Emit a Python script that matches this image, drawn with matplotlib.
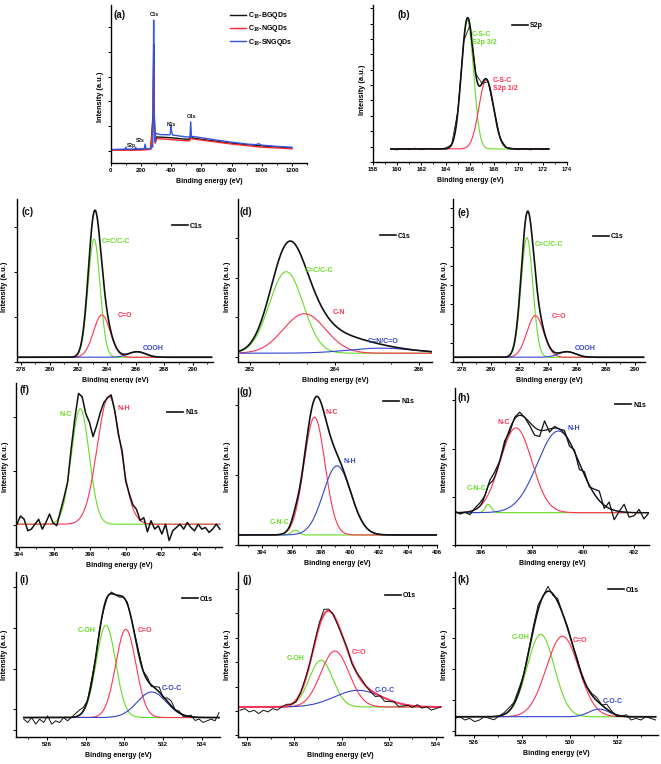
import numpy as np
import matplotlib
matplotlib.use('Agg')
import matplotlib.pyplot as plt
from matplotlib.ticker import MultipleLocator

plt.rcParams['font.family'] = ['Liberation Sans', 'DejaVu Sans']
plt.rcParams['font.weight'] = 'bold'
plt.rcParams['mathtext.fontset'] = 'custom'
plt.rcParams['mathtext.rm'] = 'Liberation Sans:bold'
plt.rcParams['mathtext.bf'] = 'Liberation Sans:bold'

GREEN = '#66dd22'
RED = '#ff3355'
BLUE = '#3344cc'
BLACK = '#111111'
SRED = '#ff2a2a'
SBLUE = '#3355e0'

# ---------------- data (intensities in a.u.) ----------------
# (a) survey spectra
a_bx = [0, 95, 100, 105, 160, 165, 170, 222, 228, 234, 265, 272, 278, 282, 284.5, 287, 292, 298, 305, 330,
        392, 397, 400, 403, 410, 500, 525, 530, 535, 545, 600, 700, 800, 900, 960, 980, 1000, 1100, 1200]
a_by = [0.085, 0.088, 0.10, 0.088, 0.088, 0.10, 0.089, 0.09, 0.12, 0.09, 0.092, 0.11, 0.10, 0.35, 0.905, 0.35,
        0.14, 0.19, 0.185, 0.18, 0.178, 0.20, 0.24, 0.20, 0.177, 0.165, 0.165, 0.26, 0.165, 0.168, 0.16,
        0.145, 0.132, 0.12, 0.116, 0.122, 0.113, 0.105, 0.10]
a_kx = [0, 100, 160, 228, 265, 280, 284.5, 289, 295, 305, 400, 480, 520, 532, 545, 600, 800, 1000, 1200]
a_ky = [0.082, 0.083, 0.084, 0.088, 0.09, 0.3, 0.75, 0.3, 0.13, 0.165, 0.16, 0.152, 0.15, 0.17, 0.158,
        0.15, 0.125, 0.108, 0.095]
a_rx = [0, 160, 228, 265, 280, 284.5, 289, 295, 305, 400, 480, 520, 532, 545, 600, 800, 1000, 1200]
a_ry = [0.08, 0.081, 0.083, 0.087, 0.25, 0.6, 0.25, 0.125, 0.155, 0.148, 0.142, 0.14, 0.155, 0.152,
        0.145, 0.12, 0.1, 0.09]
a_names = [r'C$_{\mathbf{18}}$-BGQDs', r'C$_{\mathbf{18}}$-NGQDs', r'C$_{\mathbf{18}}$-SNGQDs']

# fitted components: centre (eV), sigma (eV), height above baseline
b_base, b_cen, b_sig, b_hgt = 0.083, [165.8, 167.35], [0.5, 0.6], [0.82, 0.44]
c_base, c_cen, c_sig, c_hgt = 0.029, [283.1, 283.64, 286.1], [0.42, 0.58, 0.6], [0.725, 0.26, 0.034]
d_base, d_cen, d_sig, d_hgt = 0.054, [282.85, 283.28, 285.09], [0.4, 0.5, 0.77], [0.50, 0.242, 0.031]
e_base, e_cen, e_sig, e_hgt = 0.029, [282.52, 283.1, 285.3], [0.41, 0.58, 0.6], [0.734, 0.255, 0.034]
f_base, f_cen, f_sig, f_hgt = 0.139, [397.46, 399.07], [0.5, 0.66], [0.704, 0.78]
g_base, g_cen, g_sig, g_hgt = 0.064, [396.25, 397.58, 399.13], [0.25, 0.72, 0.95], [0.032, 0.75, 0.44]
h_base, h_cen, h_sig, h_hgt = 0.206, [396.3, 397.39, 399.05], [0.12, 0.62, 0.82], [0.053, 0.54, 0.52]
i_base, i_cen, i_sig, i_hgt = 0.118, [529.05, 530.08, 531.42], [0.5, 0.52, 0.75], [0.559, 0.535, 0.155]
j_base, j_cen, j_sig, j_hgt = 0.182, [529.13, 529.72, 530.7], [0.5, 0.6, 1.0], [0.283, 0.339, 0.101]
k_base, k_cen, k_sig, k_hgt = 0.112, [528.79, 529.7, 531.23], [0.57, 0.68, 0.42], [0.505, 0.494, 0.047]

# extra envelope broadening of (d)
d_extra = [(284.2, 0.6, 0.07)]

# residual of the measured curve from the fit
b_noise = [0.0, -0.006, 0.004, -0.004, 0.005, -0.005, 0.003, 0.0, 0.0, 0.005, 0.0, 0.01, 0.0, -0.005,
           0.008, 0.0, 0.0, 0.004, -0.003, 0.0, 0.004, -0.005, 0.003, -0.006, 0.004, -0.004, 0.0]
f_noise = [0.0, 0.05, 0.03, -0.04, -0.03, 0.0, 0.03, -0.03, 0.01, 0.06, 0.0,
           -0.03, 0.02, 0.03, 0.0, 0.04, 0.05, 0.08, 0.03, -0.02, 0.01, -0.03, 0.02, 0.03, 0.01, -0.01,
           0.02, 0.0, -0.02, 0.03, -0.02, 0.01, 0.02, 0.04, 0.0, 0.03,
           -0.05, 0.02, -0.03, -0.01, -0.06, 0.0, -0.1, -0.04, -0.02, 0.0, -0.03, 0.01, -0.02, -0.04,
           0.0, -0.03, -0.02, -0.05, -0.03, 0.0, -0.03]
h_noise = [0.01, -0.01, 0.0, -0.02, 0.01, 0.02, 0.0, 0.02, 0.03, 0.0, 0.02, -0.02, 0.01, 0.02, 0.0, -0.02,
           -0.05, -0.04, 0.06, -0.02, 0.01, 0.0, 0.02, -0.03, 0.01, -0.04, 0.02, -0.01,
           0.03, 0.06, -0.02, 0.04, -0.06, 0.0, 0.05, -0.03, -0.02, 0.02, -0.04, 0.0]
i_noise = [-0.01, -0.03, 0.0, -0.04, -0.01, -0.03, 0.01, -0.04, -0.02, -0.03, 0.0, -0.02, 0.0,
           0.02, 0.03, 0.02, 0.0,
           0.02, 0.0, 0.01, -0.01, 0.0, 0.01, 0.0, -0.01, 0.0, 0.01, 0.0, 0.01, 0.02,
           0.0, 0.02, -0.01, 0.01, 0.03, -0.01, 0.02, 0.03,
           0.0, 0.01, -0.01, 0.0, 0.01, -0.02, -0.01, -0.03, -0.02, -0.01, -0.02, 0.03]
j_noise = [-0.02, -0.01, -0.03, -0.02, -0.04, -0.02, -0.03, -0.01, -0.02,
           0.0, 0.01, 0.0, -0.01, 0.0, 0.01, 0.0, 0.01, 0.02,
           0.03, 0.01, 0.0, -0.01, 0.0, 0.01, -0.01, 0.0, 0.01,
           0.0, -0.01, -0.02, 0.0, -0.02, -0.01, 0.0, -0.02, -0.01, 0.0, -0.01, 0.01, -0.01, 0.0,
           -0.02, -0.01, 0.0]
k_noise = [-0.01, 0.0, -0.02, -0.01, -0.03, -0.02, 0.0, -0.01, -0.02, 0.0,
           0.01, 0.02, 0.01, 0.02, 0.0,
           0.01, 0.02, 0.03, 0.0, 0.03, -0.01, 0.02, 0.0, 0.01,
           0.0, 0.01, -0.01, 0.0, 0.01, 0.02, 0.0, 0.03, 0.01,
           -0.01, 0.0, 0.01, -0.02, -0.01, -0.02, 0.0, -0.01, -0.02]

W, H = 661, 764
fig = plt.figure(figsize=(W / 100, H / 100), dpi=100)


def fpos(px, py):
    return px / W, 1 - py / H


def make_axes(box, xlim, major, minor, yticks):
    l, t, r, b = box
    ax = fig.add_axes([l / W, 1 - b / H, (r - l) / W, (b - t) / H])
    ax._pxbox = box
    for s in ['top', 'right']:
        ax.spines[s].set_visible(False)
    for s in ['left', 'bottom']:
        ax.spines[s].set_linewidth(1.0)
    ax.set_xlim(*xlim)
    ax.set_ylim(0, 1)
    ax.xaxis.set_major_locator(MultipleLocator(major))
    ax.xaxis.set_minor_locator(MultipleLocator(minor))
    ax.set_yticks(yticks)
    ax.tick_params(which='major', direction='out', length=2.2, width=0.7, labelsize=4.3, pad=1.6)
    ax.tick_params(which='minor', direction='out', length=1.3, width=0.6)
    ax.tick_params(axis='y', labelleft=False)
    ax.set_xlabel('Binding energy (eV)', fontsize=5, labelpad=3.2, fontweight='bold')
    return ax


def gauss(x, c, s, h):
    return h * np.exp(-(x - c) ** 2 / (2 * s ** 2))


def spectrum(ax, span, base, cen, sig, hgt, colors, env_color=BLACK, env_lw=1.2,
             scale=1.0, extra=(), noise=None, raw_lw=0.7, draw_env=True):
    x = np.linspace(span[0], span[1], 900)
    total = np.zeros_like(x)
    for c, s, h, col in zip(cen, sig, hgt, colors):
        y = gauss(x, c, s, h)
        total += y
        ax.plot(x, base + y, color=col, lw=0.8)
    env = base + scale * total
    for c, s, h in extra:
        env = env + gauss(x, c, s, h)
    if draw_env:
        ax.plot(x, env, color=env_color, lw=env_lw)
    if noise is not None:
        xr = np.linspace(span[0], span[1], len(noise))
        yr = base + scale * sum(gauss(xr, c, s, h) for c, s, h in zip(cen, sig, hgt))
        for c, s, h in extra:
            yr = yr + gauss(xr, c, s, h)
        ax.plot(xr, yr + np.array(noise), color=BLACK, lw=raw_lw)


def legend1(ax, label, px, py, fs=5, hl=2.3):
    l, t, r, b = ax._pxbox
    ax.legend([plt.Line2D([], [], color=BLACK, lw=1.2)], [label], loc='upper left',
              bbox_to_anchor=((px - l) / (r - l), (b - py) / (b - t)), frameon=False,
              borderpad=0, borderaxespad=0, handlelength=hl, handletextpad=0.3,
              prop={'size': fs, 'weight': 'bold'})


def ftext(s, px, py, color=BLACK, size=5, **kw):
    fig.text(*fpos(px, py), s, color=color, fontsize=size, fontweight='bold',
             ha=kw.pop('ha', 'left'), va=kw.pop('va', 'center'), **kw)


def ylab(px, py):
    fig.text(*fpos(px, py), 'Intensity (a.u.)', rotation=90, fontsize=5.3,
             fontweight='bold', ha='center', va='center')


def ticks(start, step):
    return list(np.arange(start, 1.0, step))


boxes = {
    'a': (110.7, 5, 307, 163), 'b': (372.7, 5, 567, 162),
    'c': (16.7, 199, 213, 362), 'd': (237.7, 199, 432, 362), 'e': (453, 199, 645, 362),
    'f': (16, 383, 221.7, 547), 'g': (237.7, 388, 437, 545), 'h': (455, 388, 649, 545),
    'i': (16, 572, 220, 737), 'j': (237.7, 572, 443, 737), 'k': (455, 572, 658, 735),
}

# ---------------- (a) ----------------
ax = make_axes(boxes['a'], (0, 1300), 200, 100, ticks(0.078, 0.156))
la, = ax.plot(a_kx, a_ky, color=BLACK, lw=1.0)
lb, = ax.plot(a_rx, a_ry, color=SRED, lw=1.0)
lc, = ax.plot(a_bx, a_by, color=SBLUE, lw=1.0)
l, t, r, b = boxes['a']
ax.legend([la, lb, lc], a_names, loc='upper left',
          bbox_to_anchor=((230 - l) / (r - l), (b - 10) / (b - t)), frameon=False,
          borderpad=0, borderaxespad=0, handlelength=2.3, handletextpad=0.3, labelspacing=0.35,
          prop={'size': 5, 'weight': 'bold'})
for s, px, py in [('C1s', 150, 15), ('N1s', 167, 124), ('O1s', 187, 117), ('S2p', 127, 145), ('S2s', 136, 140)]:
    ftext(s, px, py, size=3.6)
ftext('(a)', 113, 15, size=7)
ylab(100, 97)

# ---------------- (b) ----------------
ax = make_axes(boxes['b'], (158, 174), 2, 1, ticks(0.0, 0.098))
spectrum(ax, (159.5, 172.5), b_base, b_cen, b_sig, b_hgt, [GREEN, RED], noise=b_noise, raw_lw=0.6)
legend1(ax, 'S2p', 512, 22)
ftext('C-S-C\nS2p 3/2', 472, 38, GREEN)
ftext('C-S-C\nS2p 1/2', 493, 85, RED)
ftext('(b)', 398, 15, size=7)
ylab(362, 90)

# ---------------- (c) ----------------
ax = make_axes(boxes['c'], (277.7, 291.4), 2, 1, ticks(0.0, 0.277))
spectrum(ax, (277.8, 291.3), c_base, c_cen, c_sig, c_hgt, [GREEN, RED, BLUE])
legend1(ax, 'C1s', 172, 222.7)
ftext('C=C/C-C', 101.7, 241.7, GREEN)
ftext('C=O', 118, 315.7, RED)
ftext('COOH', 143, 348, BLUE)
ftext('(c)', 22, 211.7, size=7)
ylab(5, 287)

# ---------------- (d) ----------------
ax = make_axes(boxes['d'], (281.7, 286.3), 2, 2 / 3, ticks(0.03, 0.244))
spectrum(ax, (281.75, 286.3), d_base, d_cen, d_sig, d_hgt, [GREEN, RED, BLUE], extra=d_extra)
legend1(ax, 'C1s', 380, 232.7)
ftext('C=C/C-C', 305, 270, GREEN)
ftext('C-N', 333, 313, RED)
ftext('C=N/C=O', 367.7, 341.7, BLUE)
ftext('(d)', 240, 211.7, size=7)
ylab(227, 287)

# ---------------- (e) ----------------
ax = make_axes(boxes['e'], (277.4, 290.7), 2, 1, ticks(0.0, 0.118))
spectrum(ax, (277.5, 290.6), e_base, e_cen, e_sig, e_hgt, [GREEN, RED, BLUE])
legend1(ax, 'C1s', 593, 233.3)
ftext('C=C/C-C', 535, 244, GREEN)
ftext('C=O', 551.7, 316.7, RED)
ftext('COOH', 575, 349, BLUE)
ftext('(e)', 457, 213, size=7)
ylab(444, 287)

# ---------------- (f) ----------------
ax = make_axes(boxes['f'], (393.85, 405.4), 2, 1, ticks(0.134, 0.33))
spectrum(ax, (393.9, 405.3), f_base, f_cen, f_sig, f_hgt, [GREEN, RED],
         noise=f_noise, raw_lw=1.1, draw_env=False)
legend1(ax, 'N1s', 167, 409.3)
ftext('N-C', 60, 415, GREEN)
ftext('N-H', 118, 408, RED)
ftext('(f)', 20, 390, size=7)
ylab(6, 467)

# ---------------- (g) ----------------
ax = make_axes(boxes['g'], (392.3, 406), 2, 1, ticks(0.0, 0.446))
spectrum(ax, (392.4, 405.95), g_base, g_cen, g_sig, g_hgt, [GREEN, RED, BLUE])
legend1(ax, 'N1s', 383, 398.3)
ftext('N-C', 325, 413, RED)
ftext('N-H', 343, 461.7, BLUE)
ftext('C-N-C', 270, 523, GREEN)
ftext('(g)', 240, 391.7, size=7)
ylab(227, 467)

# ---------------- (h) ----------------
ax = make_axes(boxes['h'], (395.0, 402.6), 2, 1, ticks(0.0, 0.307))
spectrum(ax, (395.0, 402.6), h_base, h_cen, h_sig, h_hgt, [GREEN, RED, BLUE],
         env_lw=0.9, noise=h_noise, raw_lw=0.9)
legend1(ax, 'N1s', 615, 401.7)
ftext('N-C', 497, 423, RED)
ftext('N-H', 568, 428, BLUE)
ftext('C-N-C', 467, 488, GREEN)
ftext('(h)', 457, 398, size=7)
ylab(445, 467)

# ---------------- (i) ----------------
ax = make_axes(boxes['i'], (524.4, 534.95), 2, 1, [0.04, 0.167, 0.415, 0.663, 0.911])
spectrum(ax, (524.8, 534.9), i_base, i_cen, i_sig, i_hgt, [GREEN, RED, BLUE],
         scale=1.12, noise=i_noise, raw_lw=0.7)
legend1(ax, 'O1s', 182, 595.7)
ftext('C-OH', 78, 631, GREEN)
ftext('C=O', 138, 631, RED)
ftext('C-O-C', 162, 689, BLUE)
ftext('(i)', 20, 580, size=7)
ylab(5, 655)

# ---------------- (j) ----------------
ax = make_axes(boxes['j'], (525.6, 534.3), 2, 1, ticks(0.01, 0.148))
spectrum(ax, (525.7, 534.2), j_base, j_cen, j_sig, j_hgt, [GREEN, RED, BLUE],
         env_color=RED, env_lw=1.4, noise=j_noise, raw_lw=0.7)
legend1(ax, 'O1s', 385, 592.3)
ftext('C-OH', 287, 658, GREEN)
ftext('C=O', 352, 653, RED)
ftext('C-O-C', 375, 690, BLUE)
ftext('(j)', 242, 580, size=7)
ylab(227, 655)

# ---------------- (k) ----------------
ax = make_axes(boxes['k'], (525.2, 533.7), 2, 1, ticks(0.026, 0.189))
spectrum(ax, (525.2, 533.6), k_base, k_cen, k_sig, k_hgt, [GREEN, RED, BLUE],
         noise=k_noise, raw_lw=0.7)
legend1(ax, 'O1s', 608, 586.7)
ftext('C-OH', 512, 637.7, GREEN)
ftext('C=O', 573, 641, RED)
ftext('C-O-C', 603, 701.7, BLUE)
ftext('(k)', 458, 580, size=7)
ylab(445, 655)

fig.savefig('out.png', dpi=100)
